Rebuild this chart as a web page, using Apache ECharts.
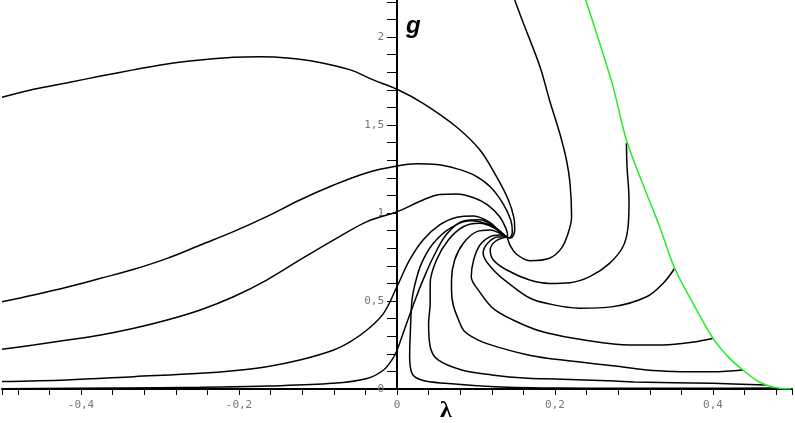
<!DOCTYPE html>
<html>
<head>
<meta charset="utf-8">
<script src="https://cdn.jsdelivr.net/npm/echarts@6/dist/echarts.min.js"></script>
<style>
  html, body { margin: 0; padding: 0; background: #fff; }
  #chart { width: 795px; height: 423px; }
</style>
</head>
<body>
<div id="chart"></div>
<script>
// tick positions / labels
const xTicks = [-0.5, -0.48, -0.44, -0.4, -0.36, -0.32, -0.28, -0.24, -0.2, -0.16, -0.12, -0.08, -0.04, 0,
  0.04, 0.08, 0.12, 0.16, 0.2, 0.24, 0.28, 0.32, 0.36, 0.4, 0.44, 0.48, 0.5]
const xLabels = [-0.4, -0.2, 0, 0.2, 0.4]
const yTicks = [0, 0.1, 0.2, 0.3, 0.4, 0.5, 0.6, 0.7, 0.8, 0.9, 1, 1.1, 1.2, 1.3, 1.4, 1.5, 1.6, 1.7, 1.8, 1.9, 2, 2.1, 2.2]
const yLabels = [0, 0.5, 1, 1.5, 2]

// trajectories coming in from the left (lambda, g)
const curveA = [[-0.5, 1.657], [-0.46, 1.703], [-0.417, 1.74], [-0.375, 1.778], [-0.334, 1.813], [-0.291, 1.847],
  [-0.249, 1.869], [-0.207, 1.885], [-0.173, 1.888], [-0.139, 1.881], [-0.101, 1.858], [-0.059, 1.813],
  [-0.03, 1.756], [0, 1.703], [0.033, 1.623], [0.075, 1.49], [0.105, 1.358], [0.126, 1.206], [0.141, 1.074],
  [0.148, 0.972], [0.149, 0.903], [0.144, 0.858], [0.139, 0.864]]
const curveB = [[-0.5, 0.496], [-0.46, 0.534], [-0.418, 0.578], [-0.375, 0.629], [-0.333, 0.68], [-0.291, 0.742],
  [-0.249, 0.818], [-0.207, 0.894], [-0.165, 0.979], [-0.123, 1.074], [-0.08, 1.159], [-0.038, 1.229],
  [0, 1.267], [0.025, 1.279], [0.05, 1.275], [0.075, 1.252], [0.097, 1.216], [0.118, 1.149], [0.134, 1.055],
  [0.144, 0.96], [0.146, 0.89], [0.142, 0.858], [0.139, 0.864]]
const curveC = [[-0.5, 0.226], [-0.46, 0.25], [-0.417, 0.278], [-0.375, 0.307], [-0.333, 0.345], [-0.291, 0.392],
  [-0.249, 0.449], [-0.207, 0.524], [-0.165, 0.619], [-0.123, 0.733], [-0.08, 0.847], [-0.038, 0.951],
  [0, 1.007], [0.033, 1.074], [0.054, 1.105], [0.076, 1.108], [0.098, 1.085], [0.115, 1.045], [0.13, 0.979],
  [0.138, 0.91], [0.14, 0.875], [0.139, 0.864]]
const curveD = [[-0.5, 0.042], [-0.418, 0.051], [-0.333, 0.07], [-0.249, 0.089], [-0.207, 0.104], [-0.165, 0.127],
  [-0.123, 0.165], [-0.08, 0.222], [-0.059, 0.269], [-0.038, 0.335], [-0.017, 0.43], [0, 0.582], [0.016, 0.733],
  [0.033, 0.847], [0.054, 0.932], [0.076, 0.976], [0.097, 0.983], [0.118, 0.945], [0.132, 0.885], [0.139, 0.864]]
const curveE = [[-0.5, 0.002], [-0.35, 0.006], [-0.249, 0.01], [-0.165, 0.017], [-0.081, 0.032], [-0.038, 0.06],
  [-0.017, 0.108], [-0.005, 0.175], [0, 0.22], [0.008, 0.32], [0.016, 0.42], [0.025, 0.53], [0.033, 0.62],
  [0.046, 0.75], [0.063, 0.88], [0.084, 0.955], [0.105, 0.962], [0.124, 0.92], [0.136, 0.875], [0.139, 0.864]]

// trajectories coming in from the right / top
const curveV = [[0.48, 0.005], [0.383, 0.004], [0.276, 0.004], [0.208, 0.005], [0.124, 0.013], [0.061, 0.032],
  [0.031, 0.051], [0.019, 0.089], [0.016, 0.184], [0.017, 0.335], [0.019, 0.506], [0.023, 0.6], [0.031, 0.714],
  [0.046, 0.828], [0.067, 0.913], [0.092, 0.956], [0.118, 0.932], [0.132, 0.885], [0.139, 0.864]]
const curveU = [[0.467, 0.023], [0.4, 0.032], [0.3, 0.04], [0.276, 0.045], [0.2, 0.057], [0.166, 0.061], [0.12, 0.08],
  [0.082, 0.108], [0.052, 0.165], [0.042, 0.24], [0.04, 0.373], [0.042, 0.487], [0.042, 0.6], [0.05, 0.733],
  [0.065, 0.847], [0.084, 0.922], [0.105, 0.941], [0.124, 0.913], [0.134, 0.875], [0.139, 0.864]]
const curveS = [[0.438, 0.108], [0.4, 0.098], [0.35, 0.1], [0.316, 0.108], [0.276, 0.13], [0.229, 0.155], [0.19, 0.175],
  [0.166, 0.193], [0.13, 0.235], [0.103, 0.278], [0.085, 0.33], [0.078, 0.392], [0.071, 0.48], [0.069, 0.562],
  [0.069, 0.619], [0.073, 0.733], [0.084, 0.828], [0.101, 0.894], [0.118, 0.903], [0.13, 0.885], [0.139, 0.864]]
const curveR = [[0.4, 0.288], [0.379, 0.269], [0.337, 0.25], [0.295, 0.25], [0.231, 0.283], [0.189, 0.32],
  [0.166, 0.354], [0.124, 0.449], [0.103, 0.562], [0.094, 0.638], [0.097, 0.733], [0.105, 0.818], [0.118, 0.866],
  [0.13, 0.875], [0.139, 0.864]]
const curveQ = [[0.3515, 0.686], [0.337, 0.601], [0.316, 0.524], [0.2735, 0.468], [0.231, 0.459], [0.189, 0.487],
  [0.168, 0.517], [0.147, 0.581], [0.122, 0.676], [0.109, 0.771], [0.115, 0.83], [0.128, 0.864], [0.139, 0.864]]
const curveP = [[0.2904, 1.396], [0.2912, 1.263], [0.2937, 1.074], [0.2925, 0.922], [0.286, 0.808], [0.269, 0.714],
  [0.244, 0.638], [0.219, 0.604], [0.193, 0.6], [0.168, 0.619], [0.139, 0.676], [0.122, 0.733], [0.118, 0.79],
  [0.125, 0.841], [0.139, 0.864]]
const curveT = [[0.149, 2.21], [0.16, 2.078], [0.181, 1.831], [0.193, 1.642], [0.206, 1.453], [0.2145, 1.301],
  [0.219, 1.169], [0.221, 0.979], [0.2166, 0.885], [0.208, 0.799], [0.193, 0.743], [0.168, 0.729], [0.151, 0.767],
  [0.143, 0.818], [0.1407, 0.847], [0.139, 0.864]]

// boundary (green)
const boundary = [[0.2389, 2.21], [0.2566, 1.964], [0.2735, 1.718], [0.2904, 1.415], [0.3157, 1.112], [0.3325, 0.922],
  [0.3515, 0.686], [0.3746, 0.487], [0.4, 0.288], [0.421, 0.174], [0.4378, 0.108], [0.4547, 0.051],
  [0.4674, 0.023], [0.4842, 0.004], [0.499, 0]]

const trajectories = [curveA, curveB, curveC, curveD, curveE, curveV, curveU, curveS, curveR, curveQ, curveP, curveT]

const fmt = v => String(+(+v).toFixed(2)).replace('.', ',')

const chart = echarts.init(document.getElementById('chart'))

const series = trajectories.map(d => ({
  type: 'line',
  data: d,
  showSymbol: false,
  smooth: 0.35,
  lineStyle: { color: '#000', width: 1.5 },
  z: 3
}))
series.push({
  type: 'line',
  data: boundary,
  showSymbol: false,
  smooth: 0.3,
  lineStyle: { color: '#22ee22', width: 1.5 },
  z: 4
})

// plot is 790 px wide for lambda -0.5..0.5, so lambda = 0 sits 395 px in
chart.setOption({
  animation: false,
  backgroundColor: '#fff',
  grid: { left: 2, right: 3, top: 0, bottom: 34, containLabel: false, outerBoundsMode: 'none' },
  xAxis: {
    type: 'value',
    min: -0.5,
    max: 0.5,
    axisLine: { show: true, onZero: false, lineStyle: { color: '#000', width: 2 } },
    axisTick: { show: true, customValues: xTicks, length: 6, lineStyle: { color: '#000', width: 1 } },
    axisLabel: {
      customValues: xLabels,
      formatter: fmt,
      margin: 11,
      color: '#777',
      fontFamily: 'DejaVu Sans Mono',
      fontSize: 11
    },
    splitLine: { show: false }
  },
  yAxis: {
    type: 'value',
    min: 0,
    max: 2.21,
    position: 'left',
    offset: -395,
    axisLine: { show: true, onZero: false, lineStyle: { color: '#000', width: 2 } },
    axisTick: { show: true, customValues: yTicks, length: 10, lineStyle: { color: '#000', width: 1 } },
    axisLabel: {
      customValues: yLabels,
      formatter: fmt,
      margin: 13,
      color: '#777',
      fontFamily: 'DejaVu Sans Mono',
      fontSize: 11
    },
    splitLine: { show: false }
  },
  graphic: [
    {
      type: 'text',
      left: 406,
      top: 14,
      style: { text: 'g', font: 'italic bold 24px "Liberation Sans"', fill: '#000' }
    },
    {
      type: 'text',
      left: 440,
      top: 399,
      style: { text: 'λ', font: 'bold 24px "Liberation Serif"', fill: '#000' }
    }
  ],
  series
})
</script>
</body>
</html>
